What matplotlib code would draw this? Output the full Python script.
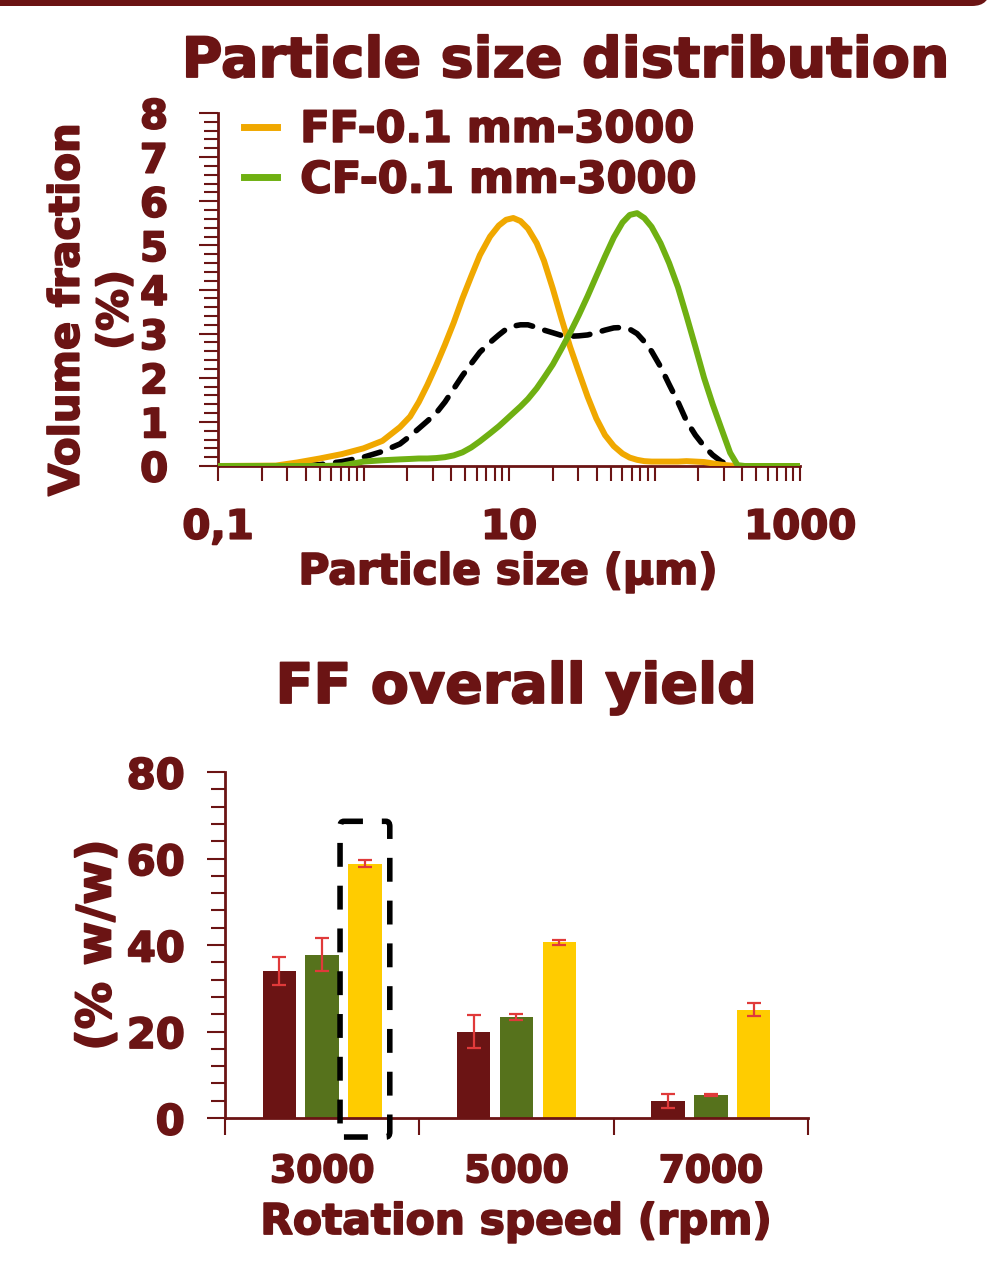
import numpy as np
import matplotlib
matplotlib.use('Agg')
import matplotlib.pyplot as plt
import matplotlib.patheffects as pe
from matplotlib.patches import FancyBboxPatch
from matplotlib.ticker import MultipleLocator, LogLocator, NullFormatter, FuncFormatter

# colours
DARK = '#6B1414'
ORANGE = '#F0A800'
LIGHTGREEN = '#6FB012'
BAR_RED = '#6B1414'
BAR_GREEN = '#56721C'
BAR_YELLOW = '#FFCC00'
ERR_RED = '#E03A3A'

plt.rcParams['font.family'] = ['DejaVu Sans']
plt.rcParams['font.weight'] = 'bold'

# Particle size distribution
size_um = [0.1, 0.25, 0.35, 0.5, 0.71, 1.0, 1.35, 1.78, 2.09, 2.4, 2.75, 3.16, 3.63, 4.17,
           4.79, 5.5, 6.31, 7.41, 8.51, 9.55, 10.7, 12.0, 13.5, 15.5, 17.4, 20.0, 22.9,
           26.3, 30.2, 34.7, 39.8, 45.7, 52.5, 60.3, 67.6, 75.9, 85.1, 95.5, 110, 126,
           145, 166, 191, 219, 251, 288, 331, 372, 417, 1000]
ff_vol = [0, 0.01, 0.08, 0.17, 0.27, 0.4, 0.57, 0.88, 1.12, 1.45, 1.84, 2.28, 2.75, 3.25,
          3.8, 4.3, 4.78, 5.2, 5.45, 5.58, 5.62, 5.55, 5.38, 5.05, 4.65, 4.02, 3.35,
          2.7, 2.13, 1.57, 1.08, 0.7, 0.45, 0.28, 0.19, 0.14, 0.11, 0.1, 0.1, 0.1,
          0.1, 0.11, 0.1, 0.09, 0.06, 0.03, 0.01, 0, 0, 0]
cf_vol = [0, 0, 0, 0, 0.01, 0.1, 0.13, 0.15, 0.16, 0.17, 0.17, 0.18, 0.2, 0.24,
          0.31, 0.42, 0.56, 0.74, 0.9, 1.05, 1.2, 1.35, 1.52, 1.76, 2.0, 2.3, 2.65,
          3.02, 3.42, 3.85, 4.3, 4.75, 5.18, 5.52, 5.69, 5.73, 5.62, 5.42, 5.05, 4.6,
          4.05, 3.4, 2.7, 2.0, 1.4, 0.85, 0.3, 0.02, 0, 0]
mix_vol = [0, 0, 0, 0.03, 0.1, 0.2, 0.33, 0.5, 0.68, 0.85, 1.02, 1.2, 1.45, 1.75,
           2.05, 2.32, 2.58, 2.8, 2.97, 3.1, 3.17, 3.2, 3.2, 3.14, 3.08, 3.02, 2.96,
           2.94, 2.95, 2.97, 3.02, 3.08, 3.13, 3.14, 3.1, 3.0, 2.82, 2.6, 2.25, 1.85,
           1.45, 1.02, 0.7, 0.45, 0.25, 0.1, 0.02, 0, 0, 0]

# FF overall yield
speeds = ['3000', '5000', '7000']
yield_red = [34.0, 20.0, 3.9]
err_red = [3.2, 3.8, 1.7]
yield_green = [37.8, 23.4, 5.3]
err_green = [3.9, 0.7, 0.25]
yield_yellow = [58.8, 40.6, 25.0]
err_yellow = [0.85, 0.6, 1.5]

W, H = 995, 1261
fig = plt.figure(figsize=(W / 100, H / 100), dpi=100)
heavy = [pe.withStroke(linewidth=1.3, foreground=DARK)]

def fx(px):
    return px / W

def fy(py):
    return 1 - py / H

# top border band
bg = fig.add_axes([0, 0, 1, 1])
bg.set_xlim(0, W)
bg.set_ylim(H, 0)
bg.axis('off')
bg.add_patch(FancyBboxPatch((-40, -60), 1030, 66, boxstyle='round,pad=0,rounding_size=18',
                            facecolor=DARK, edgecolor='none'))

# ---- particle size distribution ----
ax1 = fig.add_axes([fx(218), fy(466), fx(800) - fx(218), fy(113) - fy(466)])
ax1.plot(size_um, mix_vol, color='black', lw=4.0, dashes=(3.0, 2.3), dash_capstyle='round',
         solid_joinstyle='round', zorder=2)
ax1.plot(size_um, ff_vol, color=ORANGE, lw=4.3, label='FF-0.1 mm-3000',
         solid_joinstyle='round', zorder=3)
ax1.plot(size_um, cf_vol, color=LIGHTGREEN, lw=4.3, label='CF-0.1 mm-3000',
         solid_joinstyle='round', zorder=4)
ax1.set_xscale('log')
ax1.set_xlim(0.1, 1000)
ax1.set_ylim(0, 8)
ax1.xaxis.set_major_locator(LogLocator(base=10, numticks=10))
ax1.xaxis.set_minor_locator(LogLocator(base=10, subs=np.arange(2, 10), numticks=20))
ax1.xaxis.set_minor_formatter(NullFormatter())
ax1.xaxis.set_major_formatter(FuncFormatter(
    lambda v, p: {0.1: '0,1', 10: '10', 1000: '1000'}.get(round(v, 3), '')))
ax1.yaxis.set_major_locator(MultipleLocator(1))
ax1.yaxis.set_minor_locator(MultipleLocator(0.2))
ax1.tick_params(axis='x', which='both', direction='out', length=11, width=1.5,
                color=DARK, labelcolor=DARK, labelsize=29, pad=19)
ax1.tick_params(axis='y', which='major', direction='out', length=14, width=1.5,
                color=DARK, labelcolor=DARK, labelsize=29, pad=22)
ax1.tick_params(axis='y', which='minor', direction='out', length=10, width=1.5, color=DARK)
for s in ['top', 'right']:
    ax1.spines[s].set_visible(False)
for s in ['left', 'bottom']:
    ax1.spines[s].set_color(DARK)
    ax1.spines[s].set_linewidth(2)
for lab in ax1.get_xticklabels() + ax1.get_yticklabels():
    lab.set_fontweight('bold')
    lab.set_path_effects(heavy)
leg = ax1.legend(loc='upper left', bbox_to_anchor=(0.0, 1.085), frameon=False,
                 fontsize=31, handlelength=0.78, handletextpad=0.53, labelspacing=0.2,
                 borderaxespad=0.2)
for t in leg.get_texts():
    t.set_color(DARK)
    t.set_fontweight('bold')
    t.set_path_effects(heavy)
for h in leg.get_lines():
    h.set_linewidth(5)

fig.text(fx(565), fy(62), 'Particle size distribution', ha='center', va='center',
         fontsize=40, fontweight='bold', color=DARK, path_effects=heavy)
fig.text(fx(508), fy(572), 'Particle size (µm)', ha='center', va='center',
         fontsize=30.5, fontweight='bold', color=DARK, path_effects=heavy)
fig.text(fx(91), fy(310), 'Volume fraction\n(%)', ha='center', va='center', rotation=90,
         fontsize=30, fontweight='bold', color=DARK, linespacing=1.2, multialignment='center',
         path_effects=heavy)

# ---- FF overall yield ----
ax2 = fig.add_axes([fx(225), fy(1118), fx(808) - fx(225), fy(772) - fy(1118)])
x = np.arange(len(speeds))
bw = 0.172
off = 0.22
ekw = dict(ecolor=ERR_RED, elinewidth=1.6, capsize=5, capthick=1.6)
ax2.bar(x - off, yield_red, bw, color=BAR_RED, yerr=err_red, error_kw=ekw, zorder=2)
ax2.bar(x, yield_green, bw, color=BAR_GREEN, yerr=err_green, error_kw=ekw, zorder=2)
ax2.bar(x + off, yield_yellow, bw, color=BAR_YELLOW, yerr=err_yellow, error_kw=ekw, zorder=2)
ax2.set_xlim(-0.5, 2.5)
ax2.set_ylim(0, 80)
ax2.set_xticks(x)
ax2.set_xticklabels(speeds)
ax2.set_xticks([-0.5, 0.5, 1.5, 2.5], minor=True)
ax2.yaxis.set_major_locator(MultipleLocator(20))
ax2.yaxis.set_minor_locator(MultipleLocator(4))
ax2.tick_params(axis='x', which='major', length=0, labelcolor=DARK, labelsize=27, pad=26)
ax2.tick_params(axis='x', which='minor', direction='out', length=12, width=1.5, color=DARK)
ax2.tick_params(axis='y', which='major', direction='out', length=13, width=1.5,
                color=DARK, labelcolor=DARK, labelsize=30, pad=16)
ax2.tick_params(axis='y', which='minor', direction='out', length=10, width=1.5, color=DARK)
for s in ['top', 'right']:
    ax2.spines[s].set_visible(False)
for s in ['left', 'bottom']:
    ax2.spines[s].set_color(DARK)
    ax2.spines[s].set_linewidth(2)
for lab in ax2.get_xticklabels() + ax2.get_yticklabels():
    lab.set_fontweight('bold')
    lab.set_path_effects(heavy)

# dashed box around the 3000 rpm yellow bar
ax2.add_patch(FancyBboxPatch((off - 0.128, -4.4), 0.256, 73.0,
                             boxstyle='round,pad=0,rounding_size=0.02',
                             fill=False, edgecolor='black', lw=4, linestyle=(0, (4.3, 3.4)),
                             clip_on=False, zorder=5, mutation_aspect=60))

fig.text(fx(516), fy(688), 'FF overall yield', ha='center', va='center',
         fontsize=40, fontweight='bold', color=DARK, path_effects=heavy)
fig.text(fx(516), fy(1222), 'Rotation speed (rpm)', ha='center', va='center',
         fontsize=30.5, fontweight='bold', color=DARK, path_effects=heavy)
fig.text(fx(98), fy(945), '(% w/w)', ha='center', va='center', rotation=90,
         fontsize=34, fontweight='bold', color=DARK, path_effects=heavy)

fig.savefig('out.png', dpi=100)
